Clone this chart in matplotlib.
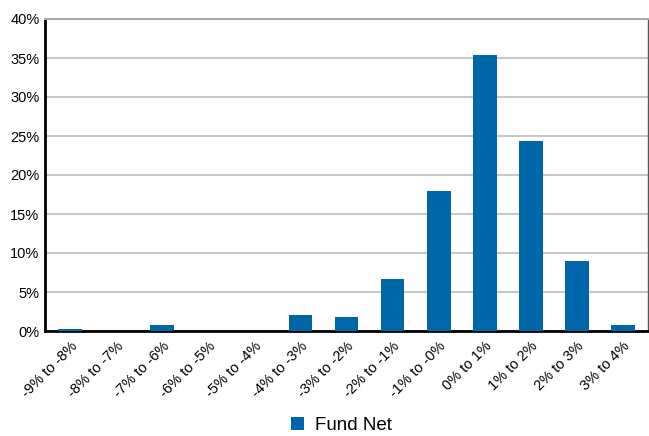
from matplotlib import pyplot as plt
import numpy as np

plt.rcParams['font.family'] = ['Liberation Sans', 'DejaVu Sans']

categories = ['-9% to -8%', '-8% to -7%', '-7% to -6%', '-6% to -5%', '-5% to -4%',
              '-4% to -3%', '-3% to -2%', '-2% to -1%', '-1% to -0%', '0% to 1%',
              '1% to 2%', '2% to 3%', '3% to 4%']
fund_net = [0.2, 0.0, 0.8, 0.0, 0.0, 2.05, 1.8, 6.7, 17.95, 35.4, 24.4, 8.95, 0.8]
yticks = [0, 5, 10, 15, 20, 25, 30, 35, 40]

fig = plt.figure(figsize=(6.49, 4.36), dpi=100)
ax = fig.add_axes([45/649, (436-331)/436, 603/649, 312/436])

x = np.arange(len(categories))
ax.bar(x, fund_net, width=0.52, color='#0066aa', label='Fund Net', zorder=3)

ax.set_xlim(-0.55, len(categories) - 0.45)
ax.set_ylim(0, 40)
ax.set_yticks(yticks)
ax.set_yticklabels(['%d%%' % t for t in yticks], fontsize=10.5)
ax.yaxis.grid(True, color='#c8c8c8', linewidth=1.5, zorder=0)
ax.tick_params(axis='y', length=0, pad=4)
ax.tick_params(axis='x', length=0, pad=6)
ax.set_xticks(x)
ax.set_xticklabels(categories, rotation=45, ha='right', rotation_mode='anchor', fontsize=10.5)

for s in ['left', 'bottom']:
    ax.spines[s].set_linewidth(2)
    ax.spines[s].set_color('black')
ax.spines['top'].set_color('#aaaaaa')
ax.spines['top'].set_linewidth(1.5)
ax.spines['right'].set_color('#555555')
ax.spines['right'].set_linewidth(1)

fig.legend(loc='center', bbox_to_anchor=(0.526, 0.025), frameon=False,
           fontsize=13.5, handlelength=0.7, handleheight=0.7, handletextpad=0.6,
           borderpad=0.2)

plt.savefig('out.png', dpi=100)
